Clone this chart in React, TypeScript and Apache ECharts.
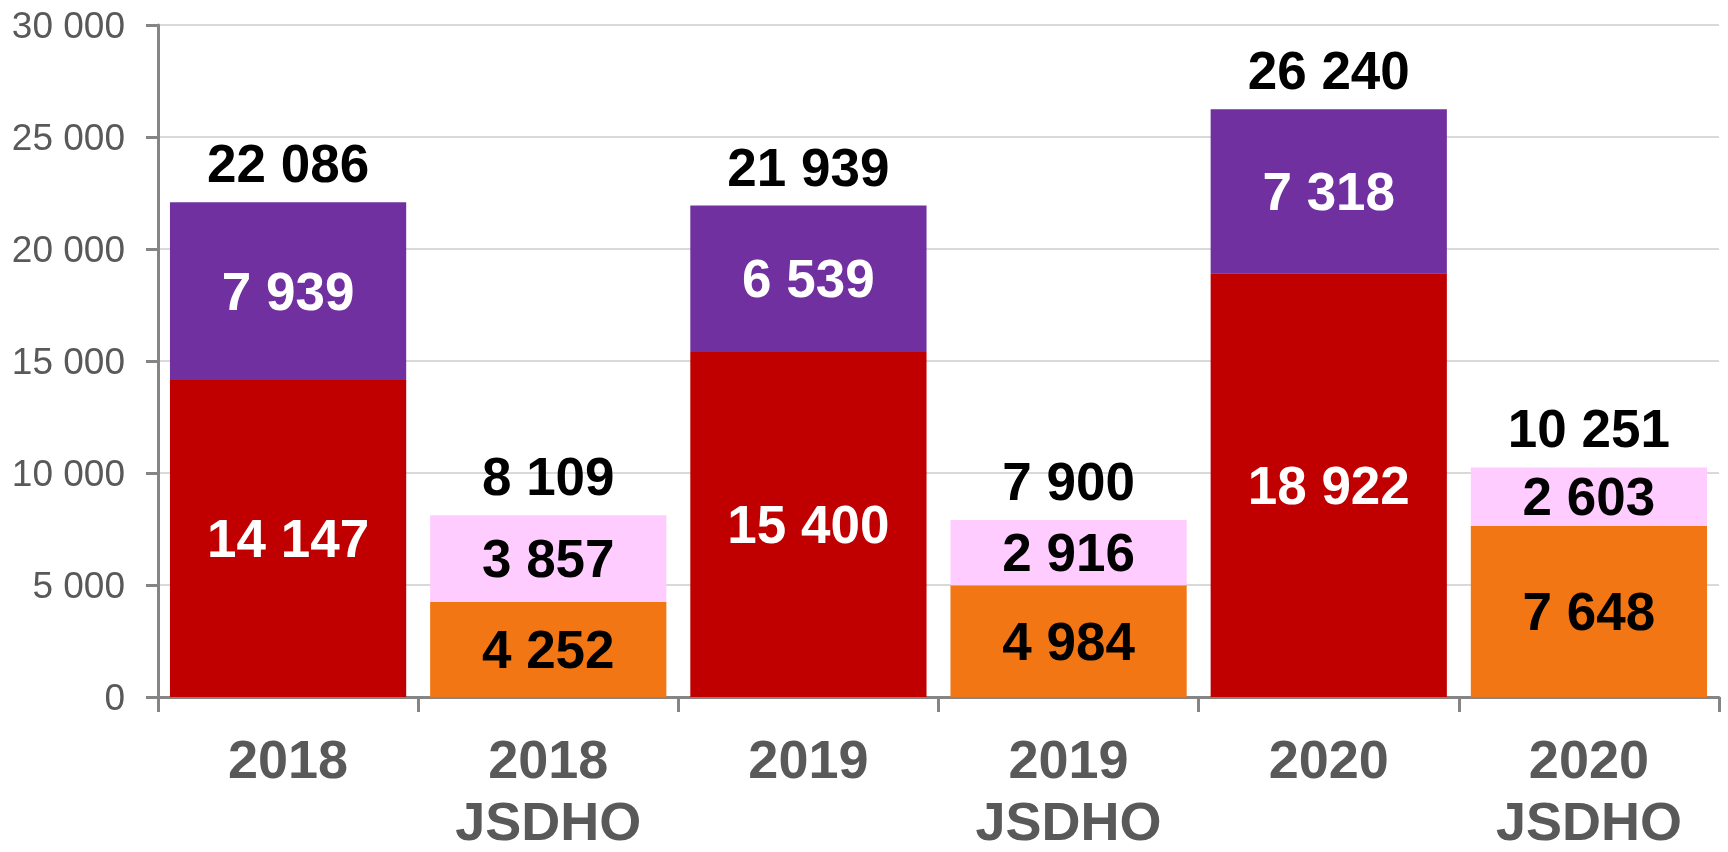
import React, { useEffect, useRef } from "react";
import * as echarts from "echarts";

const categories = ["2018", "2018\nJSDHO", "2019", "2019\nJSDHO", "2020", "2020\nJSDHO"];
const redValues = [14147, null, 15400, null, 18922, null];
const purpleValues = [7939, null, 6539, null, 7318, null];
const orangeValues = [null, 4252, null, 4984, null, 7648];
const pinkValues = [null, 3857, null, 2916, null, 2603];
const totals = [22086, 8109, 21939, 7900, 26240, 10251];
const yTicks = [0, 5000, 10000, 15000, 20000, 25000, 30000];

const FONT = "Liberation Sans, Arial, sans-serif";
const fmt = (v: number) => String(v).replace(/\B(?=(\d{3})+(?!\d))/g, " ");

export default function App() {
  const ref = useRef<HTMLDivElement>(null);
  useEffect(() => {
    document.body.style.margin = "0";
    document.body.style.overflow = "hidden";
    document.documentElement.style.overflow = "hidden";
    const chart = echarts.init(ref.current!, undefined, { renderer: "svg" });
    const inner = (color: string) => ({
      show: true,
      position: "inside" as const,
      color,
      fontFamily: FONT,
      fontWeight: "bold" as const,
      fontSize: 53,
      formatter: (p: any) => fmt(p.value),
    });
    chart.setOption({
      animation: false,
      grid: { left: 158, right: 9, top: 25, bottom: 146, containLabel: false },
      xAxis: {
        type: "category",
        data: categories,
        axisLine: { lineStyle: { color: "#858585", width: 3 } },
        axisTick: { show: true, length: 15, lineStyle: { color: "#858585", width: 3 } },
        axisLabel: {
          color: "#595959",
          fontFamily: FONT,
          fontWeight: "bold",
          fontSize: 54,
          lineHeight: 62,
          margin: 31,
          interval: 0,
        },
      },
      yAxis: {
        type: "value",
        min: yTicks[0],
        max: yTicks[yTicks.length - 1],
        interval: 5000,
        axisLine: { show: true, lineStyle: { color: "#858585", width: 3 } },
        axisTick: { show: true, length: 12, lineStyle: { color: "#858585", width: 3 } },
        splitLine: { lineStyle: { color: "#D9D9D9", width: 2 } },
        axisLabel: {
          color: "#595959",
          fontFamily: FONT,
          fontSize: 37,
          margin: 33,
          formatter: (v: number) => fmt(v),
        },
      },
      series: [
        {
          type: "bar",
          stack: "a",
          data: redValues,
          barCategoryGap: "9.2%",
          itemStyle: { color: "#C00000" },
          label: inner("#FFFFFF"),
        },
        {
          type: "bar",
          stack: "a",
          data: purpleValues,
          itemStyle: { color: "#7030A0" },
          label: inner("#FFFFFF"),
        },
        {
          type: "bar",
          stack: "a",
          data: orangeValues,
          itemStyle: { color: "#F37614" },
          label: inner("#000000"),
        },
        {
          type: "bar",
          stack: "a",
          data: pinkValues,
          itemStyle: { color: "#FFCCFF" },
          label: inner("#000000"),
        },
        {
          type: "bar",
          stack: "a",
          data: totals.map(() => 0),
          itemStyle: { color: "transparent" },
          label: {
            show: true,
            position: "top",
            distance: 12,
            color: "#000000",
            fontFamily: FONT,
            fontWeight: "bold",
            fontSize: 53,
            formatter: (p: any) => fmt(totals[p.dataIndex]),
          },
        },
      ],
    });
    return () => chart.dispose();
  }, []);
  return (
    <div
      ref={ref}
      style={{ position: "fixed", left: 0, top: 0, width: 1728, height: 852, overflow: "hidden" }}
    />
  );
}
